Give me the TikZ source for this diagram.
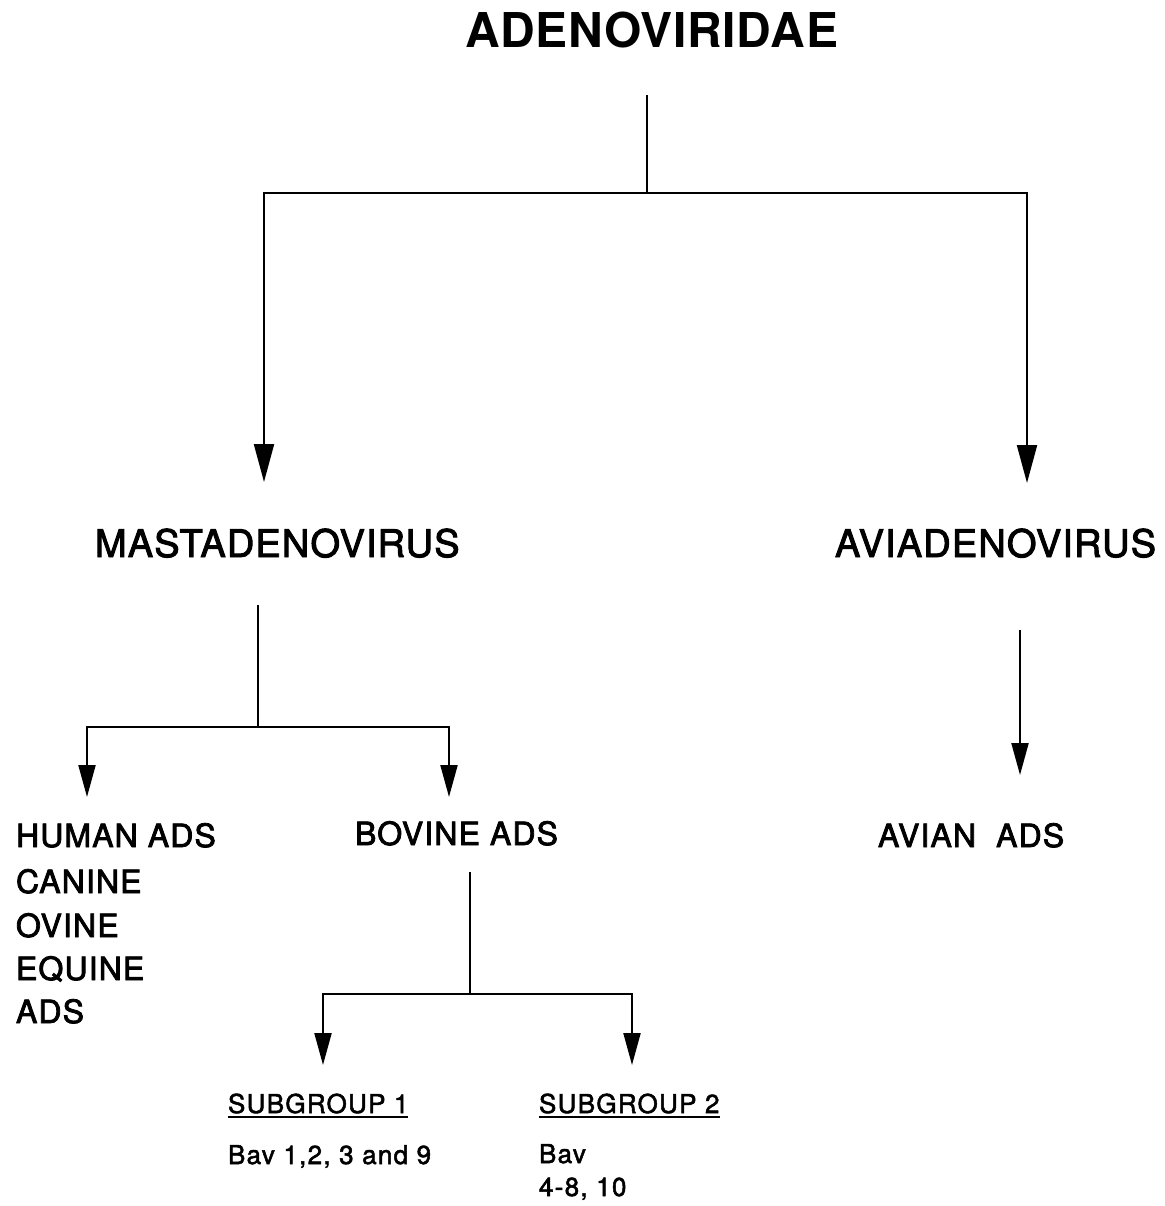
\documentclass[tikz,border=0pt]{standalone}
\usepackage{fontspec}
\setmainfont{TeX Gyre Heros}
\usetikzlibrary{arrows.meta}

\begin{document}
\begin{tikzpicture}[x=1pt,y=-1pt,
  lbl/.style={anchor=base west, inner sep=0pt, outer sep=0pt},
  title/.style={lbl, font=\fontsize{48}{48}\selectfont\bfseries\addfontfeatures{LetterSpace=1.5}},
  genus/.style={lbl, font=\fontsize{38}{38}\selectfont\addfontfeatures{LetterSpace=3,FakeBold=2.5}},
  host/.style={lbl, font=\fontsize{32}{32}\selectfont\addfontfeatures{LetterSpace=3.5,FakeBold=2.5}},
  sub/.style={lbl, font=\fontsize{26}{26}\selectfont\addfontfeatures{LetterSpace=5,FakeBold=2}},
  link/.style={line width=2.1pt},
  bigarrow/.style={link, -{Triangle[length=38pt,width=20pt]}},
  smallarrow/.style={link, -{Triangle[length=32pt,width=17pt]}},
  uline/.style={line width=1.4pt},
]
\useasboundingbox (0,0) rectangle (1164,1206);

% family and genera
\node[title] (adeno) at (465,48) {ADENOVIRIDAE};
\node[genus] (mast) at (95,557) {MASTADENOVIRUS};
\node[genus] (avi) at (835,557) {AVIADENOVIRUS};

% mastadenovirus groups
\node[host] (human) at (16,847) {HUMAN ADS};
\node[host] (canine) at (16,893) {CANINE};
\node[host] (ovine) at (16,937) {OVINE};
\node[host] (equine) at (16,980) {EQUINE};
\node[host] (ads) at (16,1023) {ADS};
\node[host] (bovine) at (355,845) {BOVINE ADS};
\node[host] (avian) at (878,847) {AVIAN\ \ ADS};

% bovine subgroups
\node[sub] (sg1) at (228,1113) {SUBGROUP 1};
\node[sub] (sg1m) at (228,1164) {Bav 1,2, 3 and 9};
\node[sub] (sg2) at (539,1113) {SUBGROUP 2};
\node[sub] (sg2a) at (539,1163) {Bav};
\node[sub] (sg2b) at (539,1196) {4-8, 10};
\draw[uline] ([yshift=-4pt]sg1.base west) -- ([yshift=-4pt]sg1.base east);
\draw[uline] ([yshift=-4pt]sg2.base west) -- ([yshift=-4pt]sg2.base east);

% branch points
\coordinate (adTop) at (647,95);
\coordinate (adJ) at (647,193);
\coordinate (mastTip) at (264,482);
\coordinate (aviTip) at (1027,483);
\coordinate (mastTop) at (258,605);
\coordinate (mastJ) at (258,727);
\coordinate (humanTip) at (87,797);
\coordinate (bovTip) at (449,797);
\coordinate (aviTop) at (1020,630);
\coordinate (avianTip) at (1020,775);
\coordinate (bovTop) at (470,872);
\coordinate (bovJ) at (470,994);
\coordinate (sg1Tip) at (323,1065);
\coordinate (sg2Tip) at (632,1065);

% connectors
\draw[link] (adTop) -- (adJ);
\draw[bigarrow] (adJ) -| (mastTip);
\draw[bigarrow] (adJ) -| (aviTip);

\draw[link] (mastTop) -- (mastJ);
\draw[smallarrow] (mastJ) -| (humanTip);
\draw[smallarrow] (mastJ) -| (bovTip);

\draw[smallarrow] (aviTop) -- (avianTip);

\draw[link] (bovTop) -- (bovJ);
\draw[smallarrow] (bovJ) -| (sg1Tip);
\draw[smallarrow] (bovJ) -| (sg2Tip);
\end{tikzpicture}
\end{document}
